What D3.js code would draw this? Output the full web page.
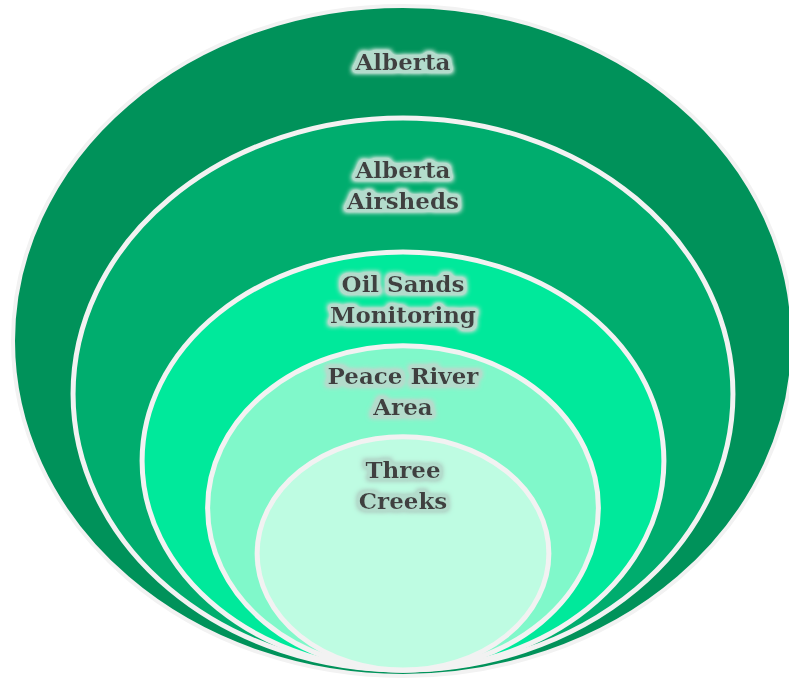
<!DOCTYPE html>
<html><head><meta charset="utf-8">
<script src="https://cdn.jsdelivr.net/npm/d3@7"></script>
<style>html,body{margin:0;padding:0;background:#fff;}svg{display:block;}</style>
</head><body>
<script>
// Nested levels, outermost first
const levels = ["Alberta", "Alberta Airsheds", "Oil Sands Monitoring", "Peace River Area", "Three Creeks"];
const labelLines = [["Alberta"], ["Alberta", "Airsheds"], ["Oil Sands", "Monitoring"], ["Peace River", "Area"], ["Three", "Creeks"]];
// Relative extents of each nested ellipse (outer = 1)
const relWidth = [1, 0.846, 0.669, 0.501, 0.374];
const relHeight = [1, 0.824, 0.624, 0.484, 0.348];
const fills = ["#00925A", "#00AD6E", "#00E99B", "#80F8CA", "#BEFCE2"];

const W = 789, H = 680;
const svg = d3.select("body").append("svg").attr("width", W).attr("height", H);

const defs = svg.append("defs");
const f = defs.append("filter").attr("id", "glow").attr("x", "-20%").attr("y", "-40%").attr("width", "140%").attr("height", "180%");
f.append("feMorphology").attr("in", "SourceAlpha").attr("operator", "dilate").attr("radius", 3).attr("result", "d");
f.append("feGaussianBlur").attr("in", "d").attr("stdDeviation", 2.5).attr("result", "b");
f.append("feFlood").attr("flood-color", "#b3dccc").attr("result", "c");
f.append("feComposite").attr("in", "c").attr("in2", "b").attr("operator", "in").attr("result", "g");
f.append("feComponentTransfer").attr("in", "g").attr("result", "g2")
  .append("feFuncA").attr("type", "linear").attr("slope", 2);
const m = f.append("feMerge");
m.append("feMergeNode").attr("in", "g2");
m.append("feMergeNode").attr("in", "SourceGraphic");

const cx = 403;
const rxScale = d3.scaleLinear().domain([0, 1]).range([0, 390]);
const ryScale = d3.scaleLinear().domain([0, 1]).range([0, 335]);

const data = levels.map((name, i) => {
  const rx = rxScale(relWidth[i]), ry = ryScale(relHeight[i]);
  const bottom = i === 0 ? 676 : 670;
  return {name, i, rx, ry, cy: bottom - ry, top: bottom - 2 * ry, lines: labelLines[i]};
});
data.forEach((d, i) => {
  const nextTop = i < data.length - 1 ? data[i + 1].top : d.top + 96;
  d.labelCenter = (d.top + nextTop) / 2;
});

svg.selectAll("ellipse.lvl").data(data).join("ellipse")
  .attr("class", "lvl")
  .attr("cx", cx)
  .attr("cy", d => d.cy)
  .attr("rx", d => d.rx)
  .attr("ry", d => d.ry)
  .attr("fill", d => fills[d.i])
  .attr("stroke", "#f2f2f2")
  .attr("stroke-width", d => d.i === 0 ? 4 : 5);

const fs = 23, lh = 31;
const lab = svg.selectAll("text.lab").data(data).join("text")
  .attr("class", "lab")
  .attr("text-anchor", "middle")
  .attr("font-family", "'DejaVu Serif', serif")
  .attr("font-weight", "bold")
  .attr("font-size", fs)
  .attr("fill", "#404040")
  .attr("filter", "url(#glow)");
lab.each(function(d) {
  const n = d.lines.length;
  const y0 = d.labelCenter - (n - 1) * lh / 2 + fs * 0.36;
  d3.select(this).selectAll("tspan").data(d.lines).join("tspan")
    .attr("x", cx)
    .attr("y", (t, j) => y0 + j * lh)
    .text(t => t);
});
</script>
</body></html>
